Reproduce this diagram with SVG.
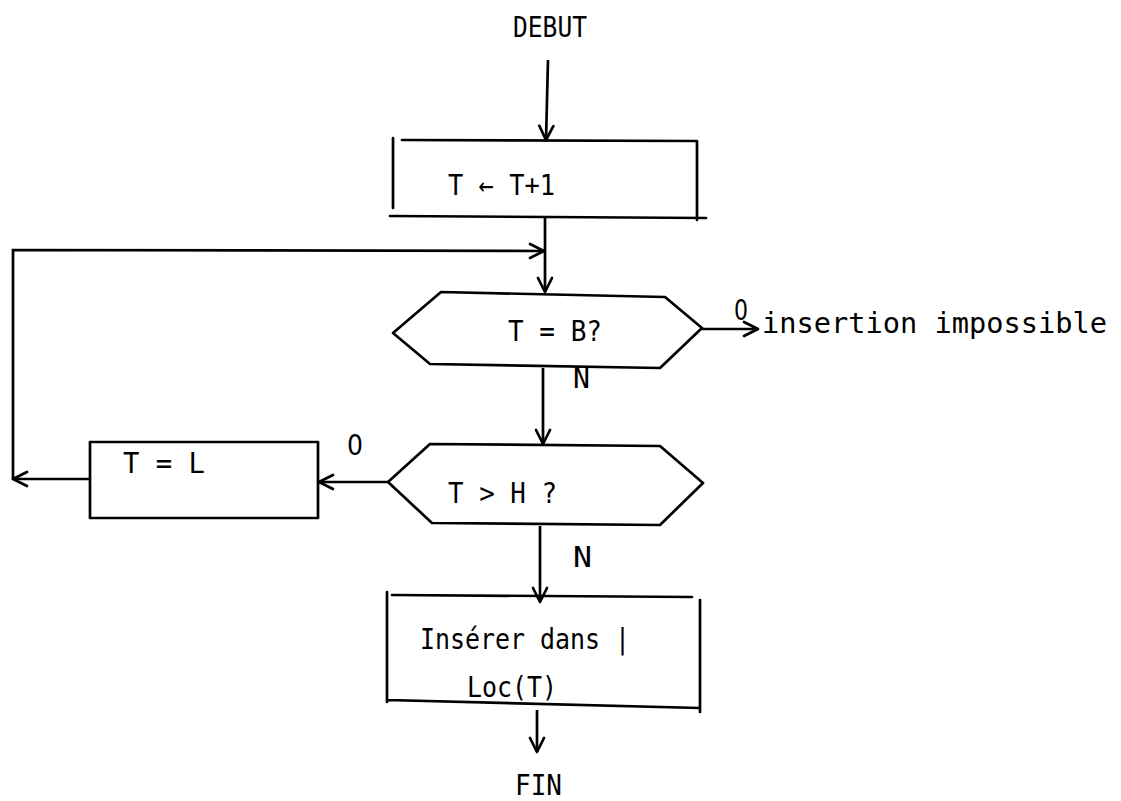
<svg xmlns="http://www.w3.org/2000/svg" width="1121" height="801" viewBox="0 0 1121 801">
<style>
.s{fill:none;stroke:#000;stroke-width:2.7;stroke-linecap:round;stroke-linejoin:round}
.c{fill:none;stroke:#000;stroke-width:2.7;marker-end:url(#ah)}
text{font-family:"DejaVu Sans Mono","Liberation Mono",monospace;font-size:29px;fill:#000}
.z{font-family:"DejaVu Sans","Liberation Sans",sans-serif}
</style>
<defs>
<marker id="ah" markerUnits="userSpaceOnUse" markerWidth="18" markerHeight="18" viewBox="0 0 18 18" refX="16" refY="9" orient="auto">
<path d="M2,2 L16,9 L2,16" fill="none" stroke="#000" stroke-width="2.7" stroke-linecap="round" stroke-linejoin="round"/>
</marker>
</defs>
<rect width="1121" height="801" fill="#fff"/>
<g id="debut"><text x="513" y="37" textLength="74" lengthAdjust="spacingAndGlyphs">DEBUT</text></g>
<g id="box1">
<path class="s" d="M393,138 L393,208 M402,140 L697,141 M697,141 L697,220 M390,216 L706,218"/>
<text x="448" y="195" textLength="107" lengthAdjust="spacingAndGlyphs">T ← T+1</text>
</g>
<g id="hex1">
<polygon class="s" points="441,292 665,297 702,328 660,368 430,364 393,333"/>
<text x="508" y="341" textLength="94" lengthAdjust="spacingAndGlyphs">T = B?</text>
</g>
<g id="impossible"><text x="762" y="333" textLength="345" lengthAdjust="spacingAndGlyphs">insertion impossible</text></g>
<g id="hex2">
<polygon class="s" points="430,444 660,446 703,483 660,525 432,523 388,482"/>
<text x="448" y="503" textLength="109" lengthAdjust="spacingAndGlyphs">T &gt; H ?</text>
</g>
<g id="boxL">
<rect class="s" x="90" y="442" width="228" height="76"/>
<text x="123" y="473" textLength="82" lengthAdjust="spacingAndGlyphs">T = L</text>
</g>
<g id="box3">
<path class="s" d="M387,592 L387,702 M392,595 L692,597 M700,600 L700,712 M387,700 L700,708"/>
<text x="420" y="649" textLength="210" lengthAdjust="spacingAndGlyphs">Insérer dans |</text>
<text x="467" y="697" textLength="90" lengthAdjust="spacingAndGlyphs">Loc(T)</text>
</g>
<g id="fin"><text x="515" y="795" textLength="47" lengthAdjust="spacingAndGlyphs">FIN</text></g>
<g id="connectors">
<path class="c" d="M548,60 L546,140"/>
<path class="c" d="M545,217 L545,292"/>
<path class="c" d="M13,480 L13,250 L544,251"/>
<path class="c" d="M702,329 L758,329"/>
<path class="c" d="M543,368 L543,444"/>
<path class="c" d="M388,482 L319,482"/>
<path class="c" d="M90,479 L13,479"/>
<path class="c" d="M540,526 L540,602"/>
<path class="c" d="M537,710 L537,752"/>
<text class="z" x="734" y="320" textLength="14" lengthAdjust="spacingAndGlyphs">0</text>
<text x="573" y="388" textLength="17" lengthAdjust="spacingAndGlyphs">N</text>
<text class="z" x="347" y="455" textLength="16" lengthAdjust="spacingAndGlyphs">0</text>
<text x="573" y="567" textLength="19" lengthAdjust="spacingAndGlyphs">N</text>
</g>
</svg>
